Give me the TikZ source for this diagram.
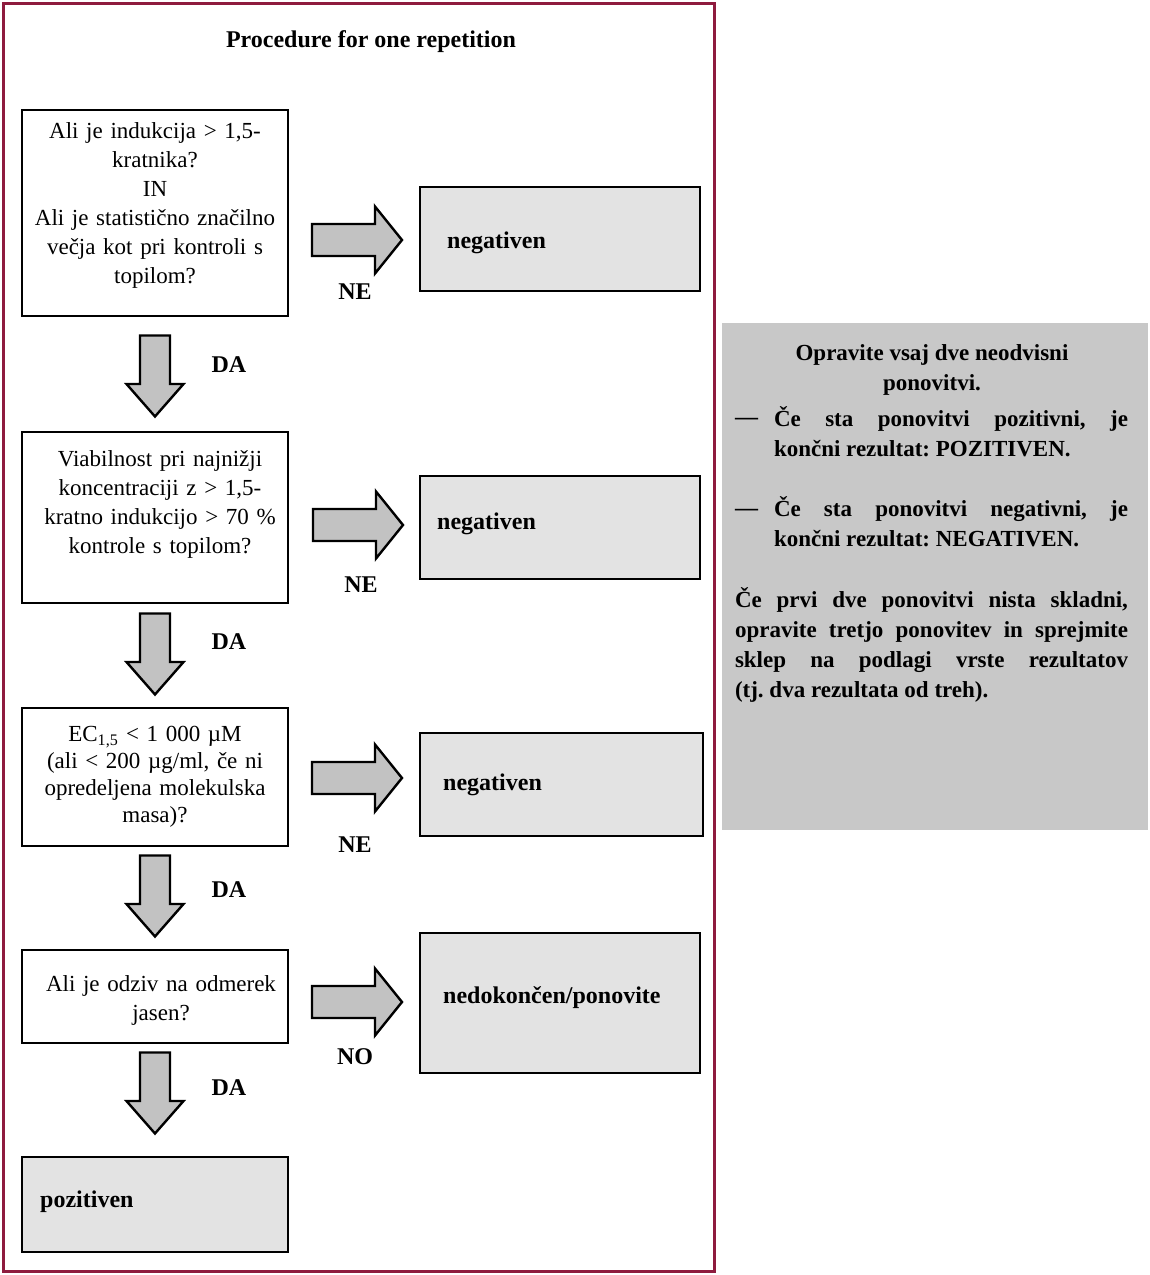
\documentclass[tikz,border=0pt]{standalone}
\usepackage{fontspec}
\setmainfont{Liberation Serif}
\frenchspacing
\usetikzlibrary{fit}
\definecolor{framecol}{HTML}{8E1B3E}
\definecolor{arrowgray}{HTML}{C2C2C2}
\definecolor{resgray}{HTML}{E3E3E3}
\definecolor{notegray}{HTML}{C8C8C8}
\tikzset{
  qbox/.style={draw=black, line width=2.6pt, inner sep=0pt},
  rbox/.style={draw=black, line width=2.6pt, inner sep=0pt, fill=resgray},
  qtext/.style={font=\fontsize{23}{29}\selectfont, align=center, text width=262pt, inner sep=0pt},
  rtext/.style={font=\fontsize{24}{29}\selectfont\bfseries, anchor=west, inner sep=0pt},
  lbl/.style={font=\fontsize{24}{29}\selectfont\bfseries, inner sep=0pt},
  ntext/.style={font=\fontsize{23}{30}\selectfont\bfseries, inner sep=0pt},
  arrowstyle/.style={draw=black, line width=2.4pt, fill=arrowgray, line join=miter},
  rarr/.pic={\path[arrowstyle] (-45,-16) -- (18,-16) -- (18,-33.5) -- (45,0) -- (18,33.5) -- (18,16) -- (-45,16) -- cycle;},
  darr/.pic={\path[arrowstyle] (-15,-40.5) -- (15,-40.5) -- (15,8) -- (28.5,8) -- (0,40.5) -- (-28.5,8) -- (-15,8) -- cycle;}
}
\begin{document}
\begin{tikzpicture}[x=1pt,y=-1pt]
\useasboundingbox (0,0) rectangle (1150,1275);
\fill[white] (0,0) rectangle (1150,1275);
% outer frame
\draw[framecol, line width=3.6pt] (3.5,3.5) rectangle (714.5,1271.5);
\node[font=\fontsize{24}{29}\selectfont\bfseries, inner sep=0pt] (title) at (371,42) {Procedure for one repetition};

% question boxes
\node[qbox, fit={(22,110) (288,316)}] (q1) {};
\node[qtext] (q1t) at (155,205) {Ali je indukcija > 1,5-\\kratnika?\\IN\\Ali je statistično značilno\\večja kot pri kontroli s\\topilom?};
\node[qbox, fit={(22,432) (288,603)}] (q2) {};
\node[qtext] (q2t) at (160,504) {Viabilnost pri najnižji\\koncentraciji z > 1,5-\\kratno indukcijo > 70 \%\\kontrole s topilom?};
\node[qbox, fit={(22,708) (288,846)}] (q3) {};
\node[qtext, font=\fontsize{23}{27}\selectfont] (q3t) at (155,777) {EC\textsubscript{1,5} < 1 000 µM\\(ali < 200 µg/ml, če ni\\opredeljena molekulska\\masa)?};
\node[qbox, fit={(22,950) (288,1043)}] (q4) {};
\node[qtext] (q4t) at (161,1000) {Ali je odziv na odmerek\\jasen?};

% result boxes
\node[rbox, fit={(420,187) (700,291)}] (n1) {};
\node[rtext] (n1t) at (447,243) {negativen};
\node[rbox, fit={(420,476) (700,579)}] (n2) {};
\node[rtext] (n2t) at (437,524) {negativen};
\node[rbox, fit={(420,733) (703,836)}] (n3) {};
\node[rtext] (n3t) at (443,785) {negativen};
\node[rbox, fit={(420,933) (700,1073)}] (n4) {};
\node[rtext] (n4t) at (443,998) {nedokončen/ponovite};
\node[rbox, fit={(22,1157) (288,1252)}] (p) {};
\node[rtext] (pt) at (40,1202) {pozitiven};

% right arrows
\pic (a1) at (357,240) {rarr};
\pic (a2) at (358,525) {rarr};
\pic (a3) at (357,778) {rarr};
\pic (a4) at (357,1002) {rarr};
% down arrows
\pic (d1) at (155,376) {darr};
\pic (d2) at (155,654) {darr};
\pic (d3) at (155,896) {darr};
\pic (d4) at (155,1093) {darr};

% labels
\node[lbl] (ne1) at (355,292) {NE};
\node[lbl] (ne2) at (361,585) {NE};
\node[lbl] (ne3) at (355,845) {NE};
\node[lbl] (no4) at (355,1057) {NO};
\node[lbl] (da1) at (229,365) {DA};
\node[lbl] (da2) at (229,642) {DA};
\node[lbl] (da3) at (229,890) {DA};
\node[lbl] (da4) at (229,1088) {DA};

% note box
\node[fill=notegray, inner sep=0pt, fit={(722,323) (1148,830)}] (note) {};
\node[ntext, align=center] (nt1) at (932,370) {Opravite vsaj dve neodvisni\\ponovitvi.};
\node[ntext, anchor=west] (dash1) at (735,421) {—};
\node[ntext, text width=354pt, align=justify] (it1) at (951,431.5) {Če sta ponovitvi pozitivni, je\linebreak končni rezultat: POZITIVEN.};
\node[ntext, anchor=west] (dash2) at (735,512) {—};
\node[ntext, text width=354pt, align=justify] (it2) at (951,522) {Če sta ponovitvi negativni, je\linebreak končni rezultat: NEGATIVEN.};
\node[ntext, text width=393pt, align=justify] (par) at (931.5,644.5) {Če prvi dve ponovitvi nista skladni,\linebreak opravite tretjo ponovitev in sprejmite\linebreak sklep na podlagi vrste rezultatov\linebreak (tj. dva rezultata od treh).};
\end{tikzpicture}
\end{document}
